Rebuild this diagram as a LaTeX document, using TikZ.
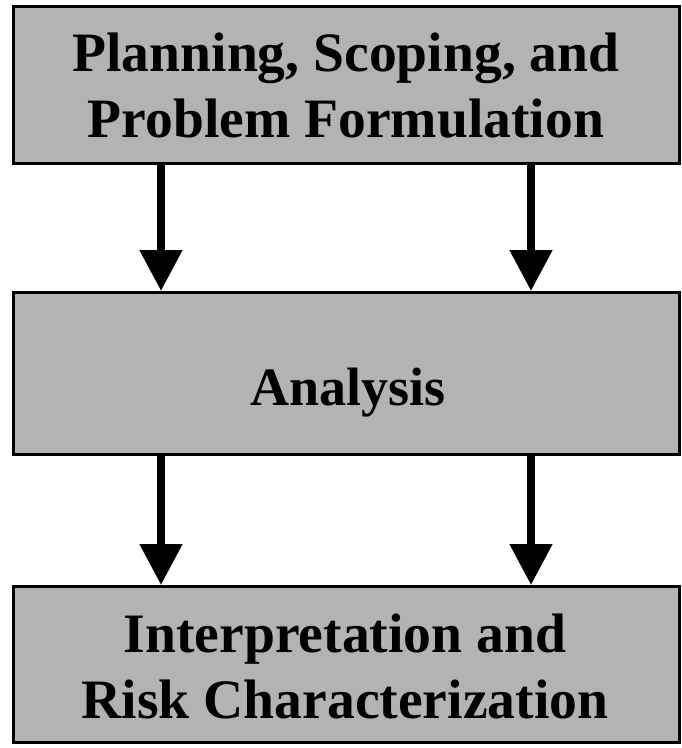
\documentclass[tikz,border=0pt]{standalone}
\usepackage{fontspec}
\setmainfont{Liberation Serif}
\usetikzlibrary{arrows.meta}
\definecolor{boxgray}{RGB}{179,179,179}
\begin{document}
\begin{tikzpicture}[x=1pt,y=-1pt,
  stagebox/.style={draw=black, line width=3pt, fill=boxgray, rectangle,
    minimum width=665.5pt, inner sep=0pt},
  lbl/.style={font=\bfseries\fontsize{54}{66}\selectfont, align=center, inner sep=0pt},
  widelbl/.style={lbl, font=\bfseries\fontsize{55.6}{66}\selectfont},
  flow/.style={line width=8pt, -{Triangle[width=41pt,length=41pt]}}]
  \useasboundingbox (0,0) rectangle (681,748);

  % the three stages of the assessment
  \node[stagebox, minimum height=157pt]   (plan) at (346.25,85) {};
  \node[stagebox, minimum height=161.5pt] (anal) at (346.25,373.25) {};
  \node[stagebox, minimum height=156pt]   (risk) at (346.25,664.5) {};

  % stage titles (anchored on the baseline of their last line)
  \node[widelbl, anchor=base] (plantxt) at (346,137) {Planning, Scoping, and\\Problem Formulation};
  \node[lbl, anchor=base] (analtxt) at (348,405) {Analysis};
  \node[widelbl, anchor=base] (risktxt) at (345,718) {Interpretation and\\Risk Characterization};

  % columns of the connecting arrows
  \coordinate (lcol) at (161,0);
  \coordinate (rcol) at (531,0);

  \draw[flow] (plan.south -| lcol) -- (anal.north -| lcol);
  \draw[flow] (plan.south -| rcol) -- (anal.north -| rcol);
  \draw[flow] (anal.south -| lcol) -- (risk.north -| lcol);
  \draw[flow] (anal.south -| rcol) -- (risk.north -| rcol);
\end{tikzpicture}
\end{document}
